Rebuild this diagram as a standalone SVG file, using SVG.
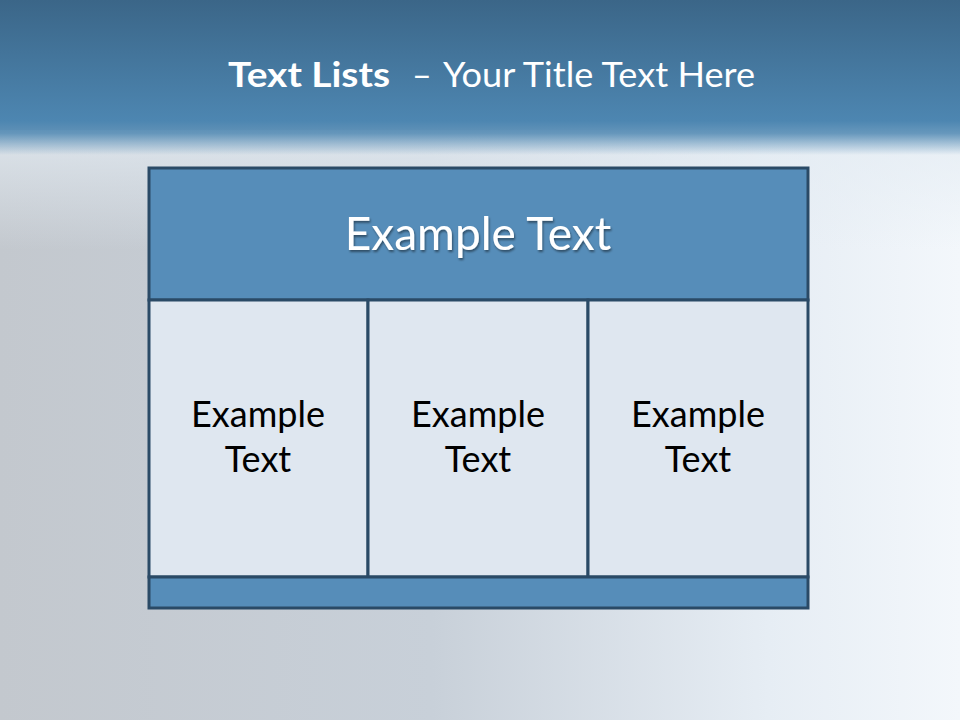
<svg xmlns="http://www.w3.org/2000/svg" width="960" height="720" viewBox="0 0 960 720">
<defs>
<linearGradient id="bgH" x1="0" y1="0" x2="1" y2="0">
<stop offset="0" stop-color="#c3c8ce"/>
<stop offset="0.45" stop-color="#c8d0d9"/>
<stop offset="0.8" stop-color="#e6edf4"/>
<stop offset="1" stop-color="#f3f7fb"/>
</linearGradient>
<linearGradient id="topGlow" x1="0" y1="0" x2="0" y2="1">
<stop offset="0" stop-color="#e4ecf3" stop-opacity="0.8"/>
<stop offset="1" stop-color="#e4ecf3" stop-opacity="0"/>
</linearGradient>
<linearGradient id="band" x1="0" y1="0" x2="0" y2="1">
<stop offset="0" stop-color="#3b6688"/>
<stop offset="0.78" stop-color="#4d86b1"/>
<stop offset="0.86" stop-color="#5088b2" stop-opacity="0.85"/>
<stop offset="1" stop-color="#5088b2" stop-opacity="0"/>
</linearGradient>
<filter id="sh" x="-10%" y="-10%" width="120%" height="130%">
<feDropShadow dx="1" dy="2" stdDeviation="1" flood-color="#000" flood-opacity="0.45"/>
</filter>
<style>
.frame{stroke:#2a4a66;stroke-width:3}
.dark{fill:#568db9}
.cell{fill:#dfe7f0}
.title{font-family:Lato,"Open Sans",sans-serif;fill:#ffffff;font-size:34px}
.head{font-family:Lato,"Open Sans",sans-serif;fill:#ffffff;font-size:46px;text-anchor:middle}
.ct{font-family:Lato,"Open Sans",sans-serif;fill:#000000;font-size:36px;text-anchor:middle}
</style>
</defs>
<rect x="0" y="0" width="960" height="720" fill="url(#bgH)"/>
<rect x="0" y="130" width="960" height="120" fill="url(#topGlow)"/>
<rect x="0" y="0" width="960" height="155" fill="url(#band)"/>
<text class="title" x="228" y="87" font-weight="bold" textLength="162" lengthAdjust="spacingAndGlyphs">Text Lists</text>
<text class="title" x="412" y="87">–</text>
<text class="title" x="443" y="87" textLength="312" lengthAdjust="spacingAndGlyphs">Your Title Text Here</text>
<g id="header">
<rect class="dark frame" x="149" y="168" width="659" height="132"/>
<text class="head" x="478" y="250" filter="url(#sh)">Example Text</text>
</g>
<g id="cell1">
<rect class="cell frame" x="149" y="300" width="219" height="277"/>
<text class="ct" x="258" y="427">Example</text>
<text class="ct" x="258" y="472">Text</text>
</g>
<g id="cell2">
<rect class="cell frame" x="368" y="300" width="220" height="277"/>
<text class="ct" x="478" y="427">Example</text>
<text class="ct" x="478" y="472">Text</text>
</g>
<g id="cell3">
<rect class="cell frame" x="588" y="300" width="220" height="277"/>
<text class="ct" x="698" y="427">Example</text>
<text class="ct" x="698" y="472">Text</text>
</g>
<g id="footer">
<rect class="dark frame" x="149" y="577" width="659" height="31"/>
</g>
<g id="connectors"/>
</svg>
